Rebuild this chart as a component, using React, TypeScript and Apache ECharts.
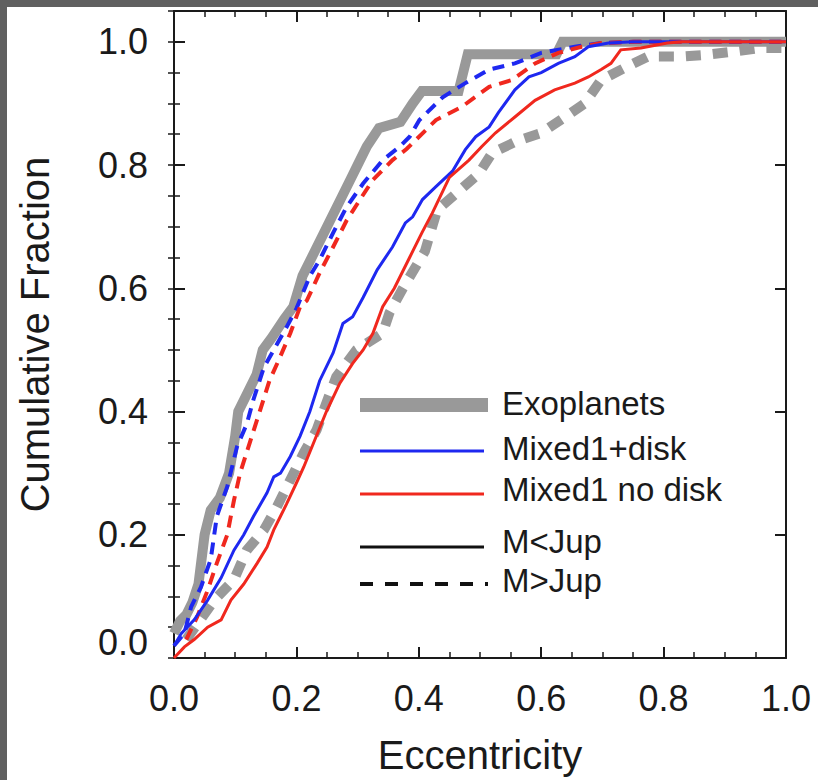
import React, { useEffect, useRef } from "react";
import * as echarts from "echarts";

// Cumulative eccentricity distributions, [eccentricity, cumulative fraction]
const exoLowMass: [number, number][] = [
  [0.0, 0.04], [0.01, 0.06], [0.02, 0.07], [0.03, 0.09], [0.04, 0.12], [0.05, 0.2],
  [0.06, 0.24], [0.075, 0.26], [0.09, 0.3], [0.1, 0.36], [0.105, 0.4], [0.12, 0.43],
  [0.135, 0.46], [0.145, 0.5], [0.16, 0.52], [0.18, 0.55], [0.195, 0.57], [0.21, 0.62],
  [0.225, 0.65], [0.25, 0.7], [0.275, 0.75], [0.29, 0.78], [0.3, 0.8], [0.315, 0.83],
  [0.335, 0.86], [0.37, 0.87], [0.39, 0.9], [0.405, 0.92], [0.465, 0.92], [0.48, 0.98],
  [0.625, 0.98], [0.635, 1.0], [1.0, 1.0],
];

const exoHighMass: [number, number][] = [
  [0.02, 0.03], [0.066, 0.094], [0.098, 0.127], [0.119, 0.175], [0.147, 0.208],
  [0.168, 0.245], [0.19, 0.289], [0.212, 0.333], [0.233, 0.37], [0.249, 0.414],
  [0.265, 0.456], [0.298, 0.5], [0.341, 0.527], [0.352, 0.56], [0.374, 0.6],
  [0.41, 0.66], [0.43, 0.727], [0.498, 0.786], [0.52, 0.82], [0.563, 0.84],
  [0.6, 0.852], [0.639, 0.878], [0.671, 0.9], [0.698, 0.938], [0.741, 0.96],
  [0.774, 0.976], [0.827, 0.976], [0.871, 0.979], [0.914, 0.984], [0.958, 0.99],
  [1.0, 0.99],
];

const diskHighMass: [number, number][] = [
  [0.0, 0.02], [0.017, 0.04], [0.028, 0.083], [0.044, 0.115], [0.06, 0.16], [0.07, 0.23],
  [0.087, 0.278], [0.103, 0.343], [0.119, 0.38], [0.13, 0.42], [0.147, 0.472],
  [0.163, 0.5], [0.184, 0.537], [0.2, 0.567], [0.222, 0.62], [0.238, 0.646],
  [0.26, 0.69], [0.282, 0.732], [0.309, 0.77], [0.341, 0.808], [0.369, 0.83],
  [0.385, 0.846], [0.401, 0.873], [0.439, 0.91], [0.476, 0.933], [0.515, 0.955],
  [0.557, 0.965], [0.6, 0.982], [0.655, 0.992], [0.698, 0.998], [0.752, 1.0], [1.0, 1.0],
];

const noDiskHighMass: [number, number][] = [
  [0.02, 0.03], [0.038, 0.067], [0.055, 0.11], [0.07, 0.154], [0.087, 0.2], [0.098, 0.256],
  [0.108, 0.3], [0.124, 0.35], [0.14, 0.4], [0.156, 0.45], [0.174, 0.49], [0.19, 0.527],
  [0.206, 0.57], [0.217, 0.58], [0.238, 0.625], [0.26, 0.667], [0.282, 0.71],
  [0.304, 0.744], [0.325, 0.776], [0.357, 0.808], [0.38, 0.826], [0.428, 0.873],
  [0.471, 0.895], [0.515, 0.927], [0.552, 0.938], [0.59, 0.965], [0.628, 0.982],
  [0.666, 0.992], [0.698, 0.998], [0.75, 1.0], [1.0, 1.0],
];

const diskLowMass: [number, number][] = [
  [0.0, 0.02], [0.012, 0.04], [0.033, 0.062], [0.055, 0.094], [0.077, 0.13], [0.098, 0.175],
  [0.114, 0.2], [0.13, 0.23], [0.152, 0.268], [0.163, 0.294], [0.174, 0.3], [0.19, 0.327],
  [0.206, 0.36], [0.222, 0.4], [0.238, 0.45], [0.26, 0.495], [0.276, 0.543],
  [0.292, 0.554], [0.309, 0.585], [0.332, 0.63], [0.357, 0.667], [0.378, 0.706],
  [0.39, 0.716], [0.406, 0.744], [0.428, 0.765], [0.455, 0.79], [0.476, 0.825],
  [0.493, 0.846], [0.515, 0.862], [0.53, 0.885], [0.557, 0.922], [0.58, 0.943],
  [0.6, 0.95], [0.628, 0.965], [0.655, 0.976], [0.677, 0.992], [0.71, 0.998],
  [0.75, 1.0], [1.0, 1.0],
];

const noDiskLowMass: [number, number][] = [
  [0.0, 0.0], [0.017, 0.018], [0.033, 0.03], [0.055, 0.05], [0.077, 0.062], [0.093, 0.094],
  [0.114, 0.12], [0.136, 0.154], [0.152, 0.18], [0.163, 0.208], [0.174, 0.23],
  [0.184, 0.25], [0.2, 0.284], [0.212, 0.31], [0.228, 0.349], [0.249, 0.4],
  [0.271, 0.446], [0.292, 0.478], [0.309, 0.5], [0.325, 0.527], [0.341, 0.57],
  [0.36, 0.6], [0.385, 0.65], [0.405, 0.69], [0.422, 0.722], [0.45, 0.78],
  [0.482, 0.808], [0.503, 0.83], [0.525, 0.852], [0.557, 0.878], [0.59, 0.905],
  [0.622, 0.922], [0.655, 0.933], [0.677, 0.943], [0.698, 0.955], [0.714, 0.965],
  [0.73, 0.987], [0.763, 0.99], [0.806, 0.998], [0.83, 1.0], [1.0, 1.0],
];

const xTicks = [0, 0.2, 0.4, 0.6, 0.8, 1.0];
const yTicks = [0, 0.2, 0.4, 0.6, 0.8, 1.0];

const legendRows = [
  { label: "Exoplanets", color: "#999999", width: 14, dash: null as number[] | null },
  { label: "Mixed1+disk", color: "#1e28f0", width: 3, dash: null },
  { label: "Mixed1 no disk", color: "#f0281e", width: 3, dash: null },
  { label: "M<Jup", color: "#111111", width: 3, dash: null },
  { label: "M>Jup", color: "#111111", width: 4, dash: [13, 12] },
];

const GRAY = "#999999";
const BLUE = "#1e28f0";
const RED = "#f0281e";
const INK = "#1a1a1a";
const FONT = "'Liberation Sans', Arial, Helvetica, sans-serif";

export default function App() {
  const ref = useRef<HTMLDivElement>(null);

  useEffect(() => {
    if (!ref.current) return;
    const chart = echarts.init(ref.current, null, { renderer: "svg" });

    const gridLeft = 162.5;
    const gridTop = 4;
    const gridW = 616.5;
    const gridH = 647;

    const axisLine = { show: true, lineStyle: { color: INK, width: 2 } };
    const majorTick = { show: true, inside: true, length: 11, lineStyle: { color: INK, width: 2 } };
    const minorTickAxis = { show: true, inside: true, length: 6, lineStyle: { color: INK, width: 1.5 } };

    const xBase = {
      type: "value" as const,
      min: 0,
      max: 1,
      interval: 0.2,
      axisLine: { ...axisLine, onZero: false },
      axisTick: majorTick,
      minorTick: { show: true, splitNumber: 4, length: 6, lineStyle: { color: INK, width: 1.5 } },
      splitLine: { show: false },
    };

    const yMajor = {
      type: "value" as const,
      min: 0,
      max: 1.05,
      interval: 0.2,
      splitLine: { show: false },
      axisTick: majorTick,
    };
    const yMinor = {
      type: "value" as const,
      min: 0,
      max: 1.05,
      interval: 0.05,
      splitLine: { show: false },
      axisLine: { show: false },
      axisLabel: { show: false },
      axisTick: minorTickAxis,
    };

    const line = (
      name: string,
      data: [number, number][],
      color: string,
      width: number,
      dash: number[] | "solid"
    ) => ({
      name,
      type: "line" as const,
      data,
      showSymbol: false,
      symbol: "none",
      xAxisIndex: 0,
      yAxisIndex: 0,
      lineStyle: { color, width, type: dash, cap: "butt" as const, join: "miter" as const },
      emphasis: { disabled: true },
      z: 2,
    });

    const legendGraphics: any[] = [];
    const legendY = [398, 444, 487, 540, 577];
    const textY = [396, 441, 482, 534, 573];
    legendRows.forEach((row, i) => {
      legendGraphics.push({
        type: "line",
        shape: { x1: 353, y1: legendY[i], x2: i === 0 || i === 4 ? 481 : 477, y2: legendY[i] },
        style: { stroke: row.color, lineWidth: row.width, lineDash: row.dash || undefined },
        silent: true,
      });
      legendGraphics.push({
        type: "text",
        x: 495,
        y: textY[i],
        style: {
          text: row.label,
          fill: INK,
          fontSize: 33,
          fontFamily: FONT,
          verticalAlign: "middle",
          align: "left",
        },
        silent: true,
      });
    });

    chart.setOption({
      animation: false,
      backgroundColor: "#ffffff",
      grid: { left: gridLeft, top: gridTop, width: gridW, height: gridH, containLabel: false },
      xAxis: [
        {
          ...xBase,
          position: "bottom",
          name: "Eccentricity",
          nameLocation: "middle",
          nameGap: 77,
          nameTextStyle: { fontSize: 40, fontFamily: FONT, color: INK },
          axisLabel: {
            show: true,
            margin: 22,
            fontSize: 36,
            fontFamily: FONT,
            color: INK,
            customValues: xTicks,
            formatter: (v: number) => v.toFixed(1),
          },
        },
        {
          ...xBase,
          position: "top",
          axisLabel: { show: false },
        },
      ],
      yAxis: [
        {
          ...yMajor,
          position: "left",
          axisLine: { ...axisLine, onZero: false },
          name: "Cumulative Fraction",
          nameLocation: "middle",
          nameGap: 119,
          nameTextStyle: { fontSize: 40, fontFamily: FONT, color: INK },
          axisLabel: {
            show: true,
            margin: 26,
            fontSize: 36,
            fontFamily: FONT,
            color: INK,
            customValues: yTicks,
            formatter: (v: number) => (v === 0 ? "{lo|0.0}" : v.toFixed(1)),
            rich: {
              lo: { fontSize: 36, fontFamily: FONT, color: INK, padding: [0, 0, 32, 0] },
            },
          },
        },
        { ...yMinor, position: "left" },
        {
          ...yMajor,
          position: "right",
          axisLine: { ...axisLine, onZero: false },
          axisLabel: { show: false },
        },
        { ...yMinor, position: "right" },
      ],
      series: [
        line("Exoplanets M<Jup", exoLowMass, GRAY, 10, "solid"),
        line("Exoplanets M>Jup", exoHighMass, GRAY, 10, [15, 12]),
        line("Mixed1+disk M>Jup", diskHighMass, BLUE, 4, [12, 8]),
        line("Mixed1 no disk M>Jup", noDiskHighMass, RED, 4, [12, 8]),
        line("Mixed1+disk M<Jup", diskLowMass, BLUE, 3, "solid"),
        line("Mixed1 no disk M<Jup", noDiskLowMass, RED, 3, "solid"),
      ],
      graphic: legendGraphics,
    });

    return () => chart.dispose();
  }, []);

  return (
    <div
      style={{
        position: "fixed",
        left: 0,
        top: 0,
        width: 818,
        height: 780,
        background: "#606060",
      }}
    >
      <div
        ref={ref}
        style={{
          position: "absolute",
          left: 7,
          top: 7,
          width: 811,
          height: 773,
          background: "#ffffff",
        }}
      />
    </div>
  );
}
